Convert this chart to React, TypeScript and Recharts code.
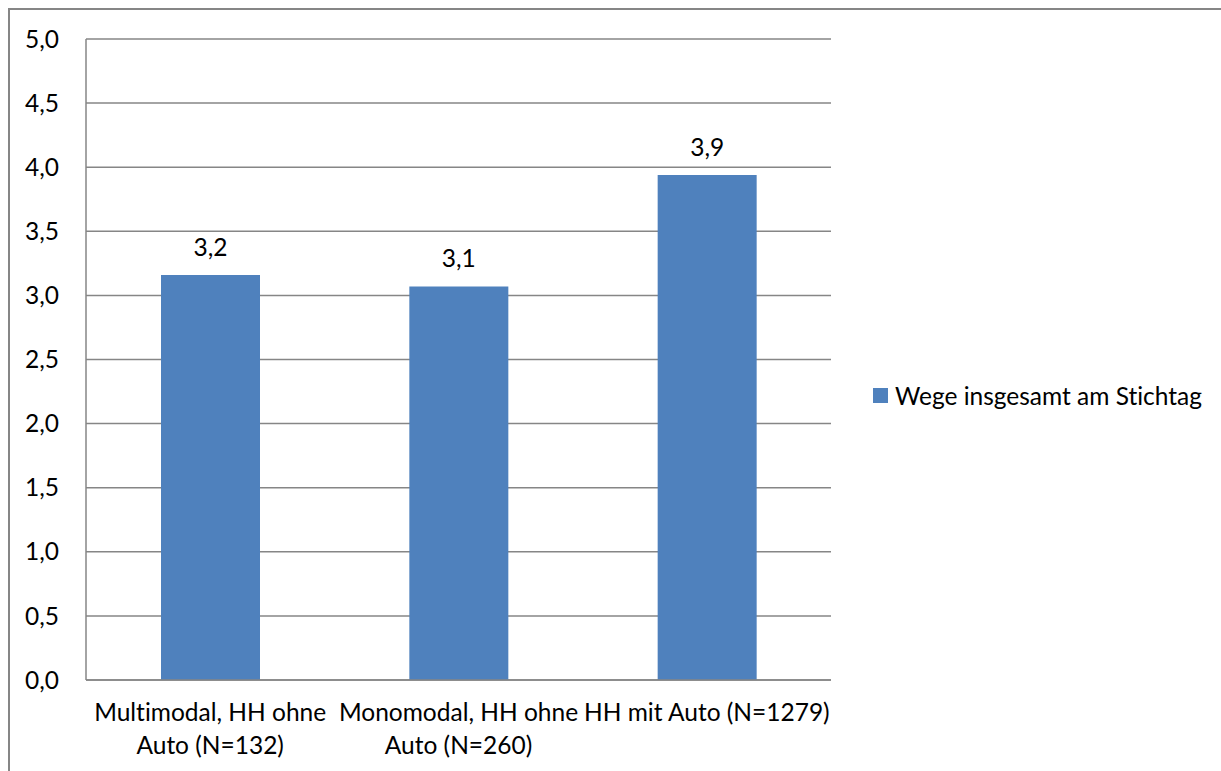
import { BarChart, Bar, XAxis, YAxis, CartesianGrid, LabelList } from "recharts";

const categories = ["Multimodal, HH ohne\nAuto (N=132)", "Monomodal, HH ohne\nAuto (N=260)", "HH mit Auto (N=1279)"];
const wege = [3.16, 3.07, 3.94];
const yTicks = [0, 0.5, 1, 1.5, 2, 2.5, 3, 3.5, 4, 4.5, 5];
const seriesName = "Wege insgesamt am Stichtag";

const data = categories.map((c, i) => ({ name: c, wege: wege[i] }));

const FONT = "Lato, 'Open Sans', sans-serif";
const FS = 24.5;
const GRID = "#868686";
const BLUE = "#4F81BD";
const noLig = { fontVariantLigatures: "none" } as const;

const fmt = (v: number) => v.toFixed(1).replace(".", ",");

function CategoryTick(props: any) {
  const { x, y, payload } = props;
  const lines = String(payload.value).split("\n");
  return (
    <g>
      {lines.map((l, i) => (
        <text key={i} x={x} y={y + 41 + i * 33} textAnchor="middle" fill="#000" fontSize={FS} fontFamily={FONT} style={noLig}>
          {l}
        </text>
      ))}
    </g>
  );
}

function ValueLabel(props: any) {
  const { x, y, width, value } = props;
  return (
    <text x={x + width / 2} y={y - 19} textAnchor="middle" fill="#000" fontSize={FS} fontFamily={FONT}>
      {fmt(value)}
    </text>
  );
}

export default function App() {
  return (
    <div style={{ position: "absolute", left: 0, top: 0, width: 1221, height: 771, overflow: "hidden", background: "#fff" }}>
      <div style={{ position: "absolute", left: 8, top: 8, width: 1400, height: 1000, border: `2px solid ${GRID}` }} />
      <div style={{ position: "absolute", left: 0, top: 0 }}>
        <BarChart width={1221} height={771} data={data} margin={{ top: 39, right: 390, bottom: 0, left: 0 }}>
          <CartesianGrid vertical={false} stroke={GRID} strokeWidth={1.5} />
          <XAxis
            dataKey="name"
            height={91}
            axisLine={{ stroke: GRID, strokeWidth: 1.5 }}
            tickLine={false}
            tickSize={0}
            tickMargin={0}
            interval={0}
            tick={<CategoryTick />}
          />
          <YAxis
            width={86}
            domain={[0, 5]}
            ticks={yTicks}
            tickFormatter={fmt}
            axisLine={{ stroke: GRID, strokeWidth: 1.5 }}
            tickLine={false}
            tickSize={0}
            tickMargin={27}
            tick={{ fill: "#000", fontSize: FS, fontFamily: FONT }}
          />
          <Bar dataKey="wege" name={seriesName} fill={BLUE} barSize={99} isAnimationActive={false}>
            <LabelList dataKey="wege" content={<ValueLabel />} />
          </Bar>
        </BarChart>
      </div>
      <div
        style={{
          position: "absolute",
          left: 873,
          top: 381,
          display: "flex",
          alignItems: "center",
          fontFamily: FONT,
          fontSize: FS,
          color: "#000",
          whiteSpace: "nowrap",
          fontVariantLigatures: "none",
        }}
      >
        <span style={{ width: 15, height: 15, background: BLUE, display: "inline-block", marginRight: 7 }} />
        <span>{seriesName}</span>
      </div>
    </div>
  );
}
